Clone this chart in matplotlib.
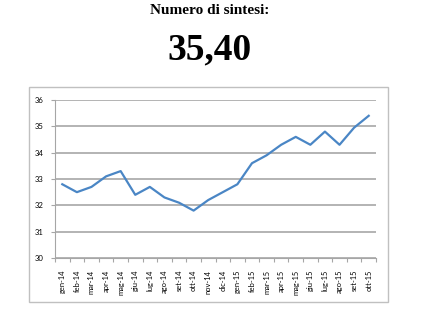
import matplotlib
matplotlib.use("Agg")
import matplotlib.pyplot as plt
from matplotlib.patches import Rectangle
from matplotlib.ticker import FixedLocator, NullFormatter

months = ["gen-14", "feb-14", "mar-14", "apr-14", "mag-14", "giu-14", "lug-14",
          "ago-14", "set-14", "ott-14", "nov-14", "dic-14", "gen-15", "feb-15",
          "mar-15", "apr-15", "mag-15", "giu-15", "lug-15", "ago-15", "set-15",
          "ott-15"]
values = [32.8, 32.5, 32.7, 33.1, 33.3, 32.4, 32.7, 32.3, 32.1, 31.8, 32.2,
          32.5, 32.8, 33.6, 33.9, 34.3, 34.6, 34.3, 34.8, 34.3, 34.95, 35.4]
y_ticks = [30, 31, 32, 33, 34, 35, 36]
title = "Numero di sintesi:"
headline = "35,40"

W, H = 440, 319
fig = plt.figure(figsize=(W / 100, H / 100), dpi=100)
fig.patch.set_facecolor("white")

# chart border
fig.patches.append(Rectangle((29 / W, 1 - 302 / H), (388 - 29) / W, (302 - 87) / H,
                             transform=fig.transFigure, fill=False,
                             edgecolor="#c0c0c0", linewidth=1.0))

fig.text(210 / W, 1 - 11 / H, title, ha="center", va="center",
         family="Liberation Serif", weight="bold", fontsize=11)
fig.text(209 / W, 1 - 50 / H, headline, ha="center", va="center",
         family="Liberation Serif", weight="bold", fontsize=27)

ax = fig.add_axes([55 / W, 1 - 258 / H, (376 - 55) / W, (258 - 100) / H])
x = list(range(len(months)))
ax.plot(x, values, color="#4a86c5", linewidth=1.6, solid_joinstyle="round")

ax.set_xlim(-0.5, len(months) - 0.5)
ax.set_ylim(30, 36)
ax.set_yticks(y_ticks)
ax.set_yticklabels([str(v) for v in y_ticks], family="Lato",
                   fontsize=5.6, color="#000000")
ax.yaxis.grid(True, color="#b3b3b3", linewidth=1.4)
ax.set_axisbelow(True)

ax.set_xticks(x)
ax.set_xticklabels(months, rotation=90, family="Lato", fontsize=5.4,
                   color="#000000")
ax.xaxis.set_minor_locator(FixedLocator([i - 0.5 for i in range(len(months) + 1)]))
ax.xaxis.set_minor_formatter(NullFormatter())
ax.tick_params(axis="x", which="major", length=0, pad=8.5)
ax.tick_params(axis="x", which="minor", length=3, color="#a6a6a6", width=0.8)
ax.tick_params(axis="y", length=3, color="#a6a6a6", width=0.8, pad=5)

for s in ["top", "right"]:
    ax.spines[s].set_visible(False)
for s in ["left", "bottom"]:
    ax.spines[s].set_color("#a6a6a6")
    ax.spines[s].set_linewidth(0.8)

fig.savefig("out.png", dpi=100)
